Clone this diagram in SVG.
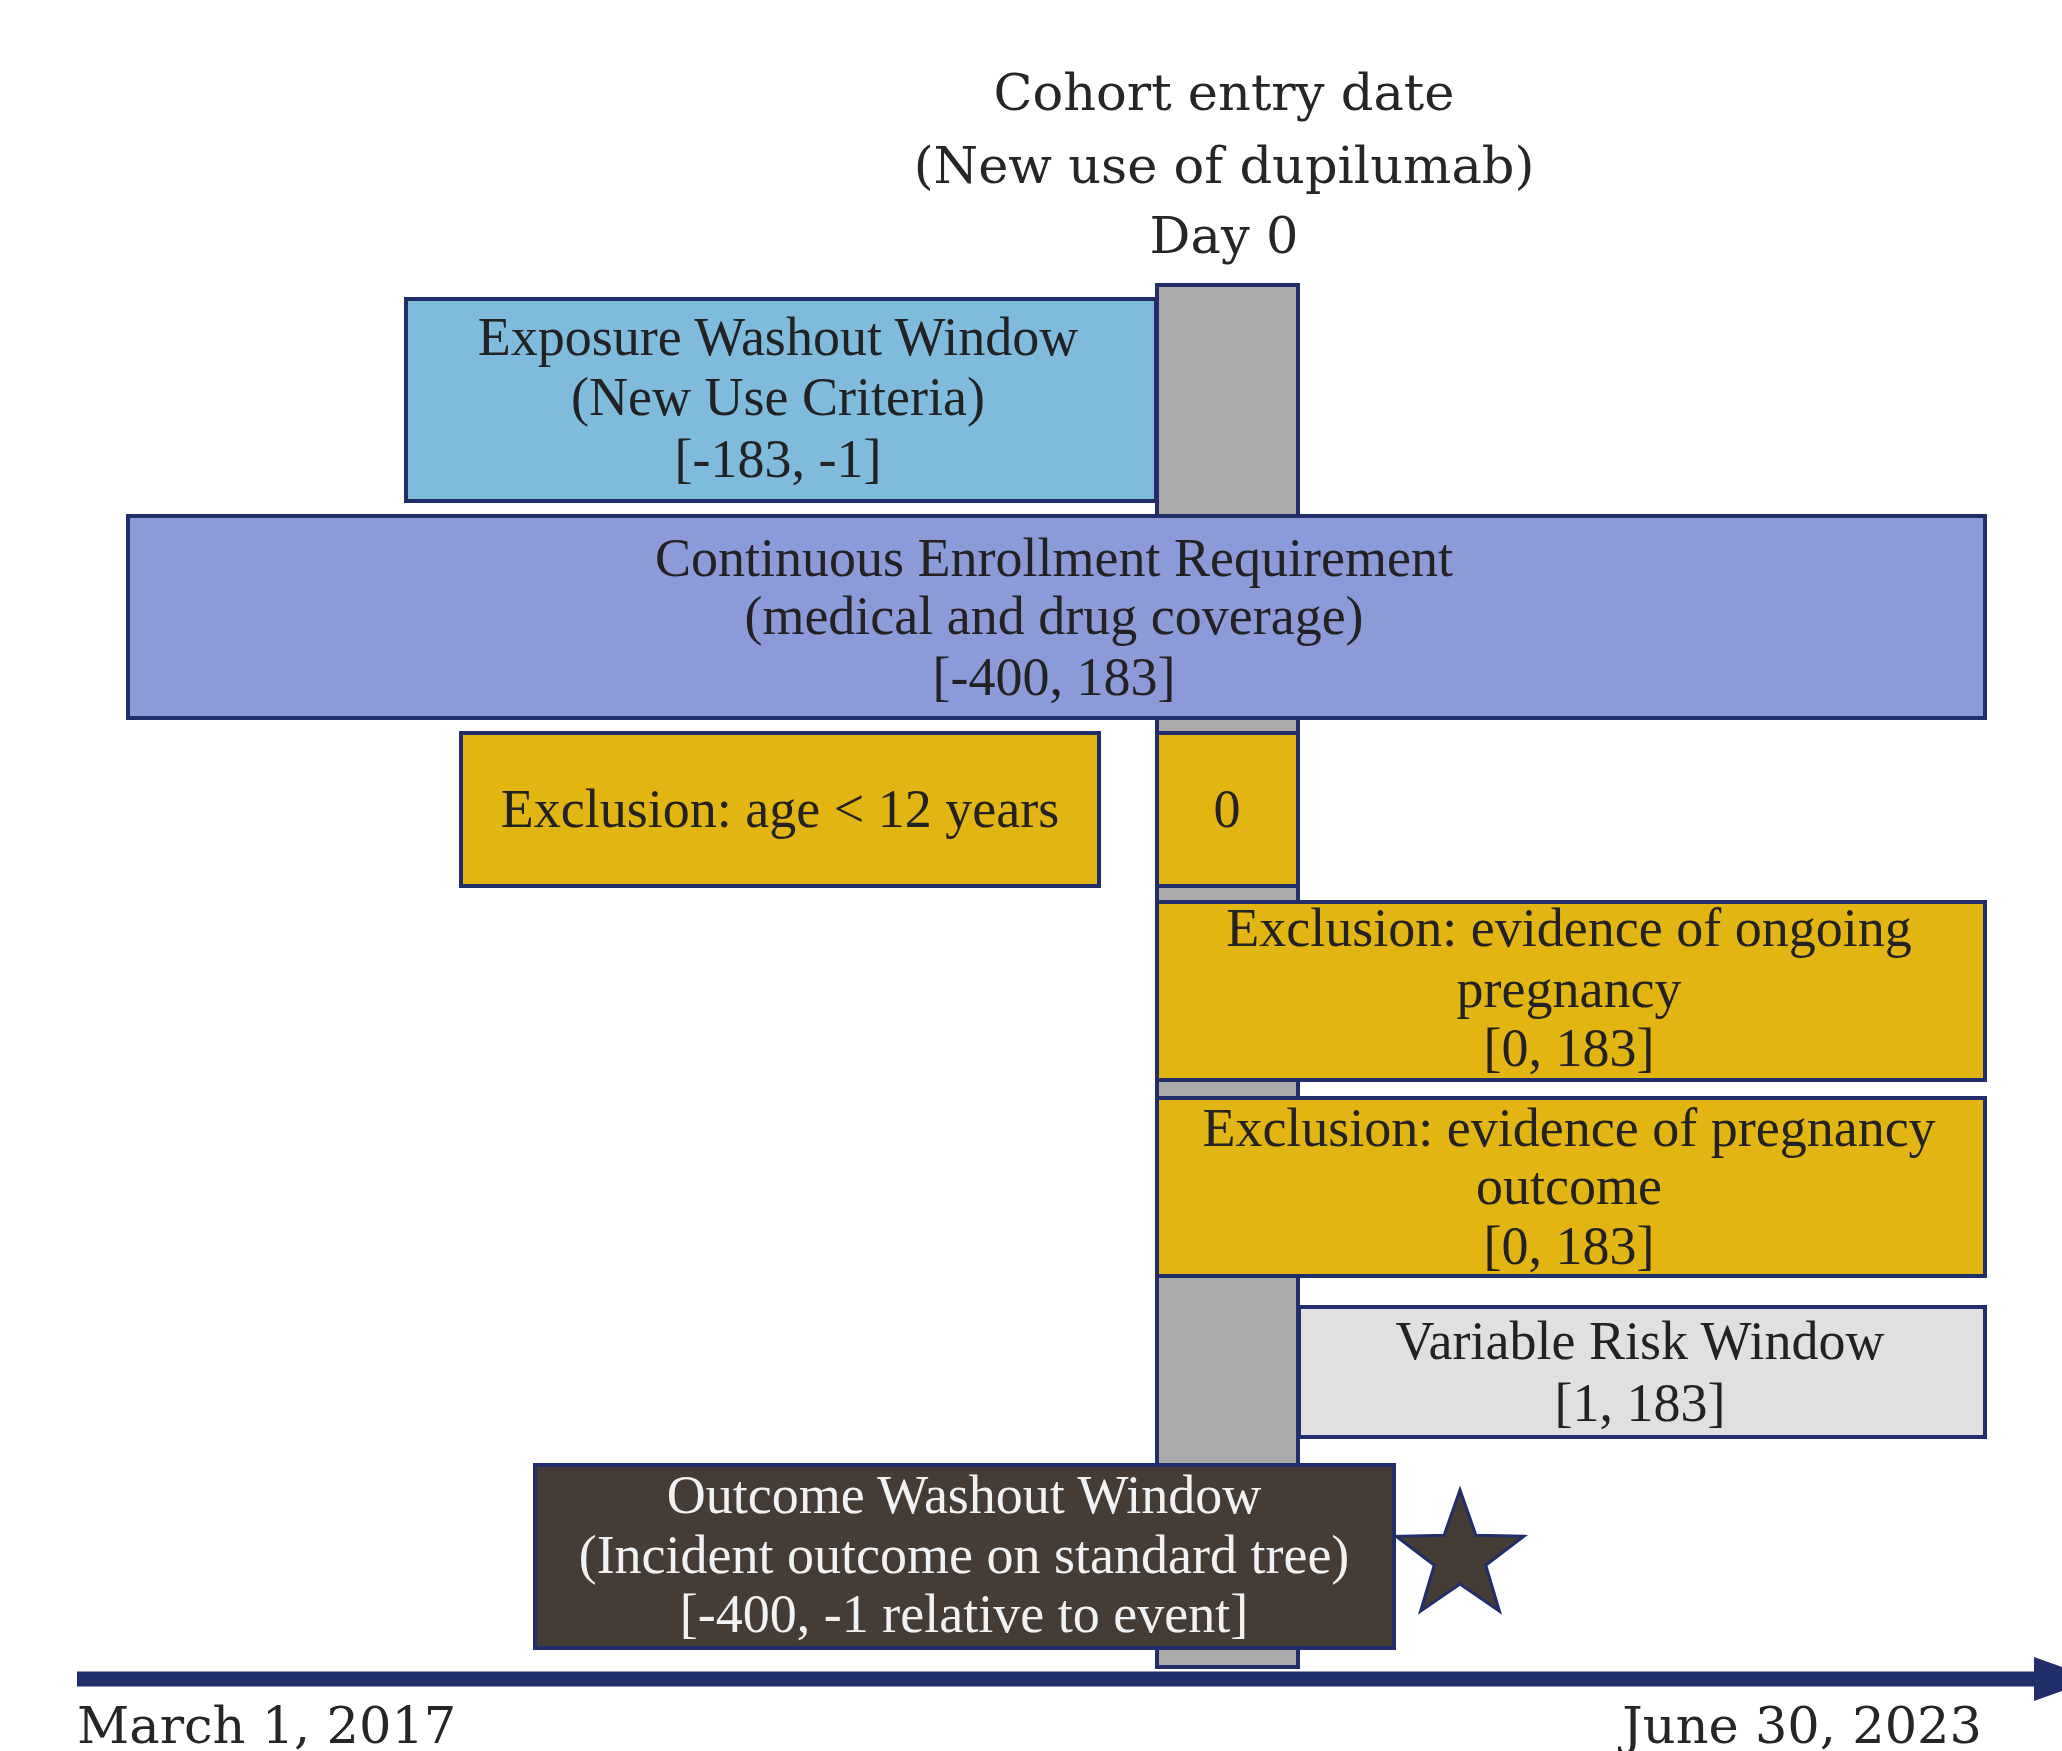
<svg xmlns="http://www.w3.org/2000/svg" width="2062" height="1751" viewBox="0 0 2062 1751">
<style>
  .box { stroke: #222E6A; stroke-width: 4; }
  .t { font-family: "Liberation Serif", "Times New Roman", serif; font-size: 54px; text-anchor: middle; fill: #222222; }
  .h { font-family: "DejaVu Serif", "Liberation Serif", serif; font-size: 51px; fill: #262626; }
  .light { fill: #F2F2F2; }
</style>
<defs>
  <marker id="arrowhead" markerUnits="userSpaceOnUse" markerWidth="64" markerHeight="46" refX="0" refY="23" orient="auto" overflow="visible">
    <path d="M0,1 L62,23 L0,45 Z" fill="#222E6A"/>
  </marker>
</defs>
<rect width="2062" height="1751" fill="#FFFFFF"/>

<g id="cohort-entry-label">
  <text class="h" x="1224" y="110" text-anchor="middle">Cohort entry date</text>
  <text class="h" x="1224" y="183" text-anchor="middle">(New use of dupilumab)</text>
  <text class="h" x="1224" y="253" text-anchor="middle">Day 0</text>
</g>

<g id="day0-bar">
  <rect class="box" x="1157" y="285" width="141" height="1382" fill="#AAAAAA"/>
</g>

<g id="exposure-washout">
  <rect class="box" x="406" y="299" width="750" height="202" fill="#7FBBDC"/>
  <text class="t" x="778" y="355">Exposure Washout Window</text>
  <text class="t" x="778" y="415">(New Use Criteria)</text>
  <text class="t" x="778" y="477">[-183, -1]</text>
</g>

<g id="continuous-enrollment">
  <rect class="box" x="128" y="516" width="1857" height="202" fill="#8D9AD9"/>
  <text class="t" x="1054" y="576">Continuous Enrollment Requirement</text>
  <text class="t" x="1054" y="634">(medical and drug coverage)</text>
  <text class="t" x="1054" y="695">[-400, 183]</text>
</g>

<g id="exclusion-age">
  <rect class="box" x="461" y="733" width="638" height="153" fill="#E3B512"/>
  <text class="t" x="780" y="827">Exclusion: age &lt; 12 years</text>
</g>

<g id="exclusion-age-day">
  <rect class="box" x="1157" y="733" width="141" height="153" fill="#E3B512"/>
  <text class="t" x="1227" y="827">0</text>
</g>

<g id="exclusion-ongoing-pregnancy">
  <rect class="box" x="1157" y="902" width="828" height="178" fill="#E3B512"/>
  <text class="t" x="1569" y="946">Exclusion: evidence of ongoing</text>
  <text class="t" x="1569" y="1007">pregnancy</text>
  <text class="t" x="1569" y="1066">[0, 183]</text>
</g>

<g id="exclusion-pregnancy-outcome">
  <rect class="box" x="1157" y="1098" width="828" height="178" fill="#E3B512"/>
  <text class="t" x="1569" y="1146">Exclusion: evidence of pregnancy</text>
  <text class="t" x="1569" y="1204">outcome</text>
  <text class="t" x="1569" y="1264">[0, 183]</text>
</g>

<g id="variable-risk-window">
  <rect class="box" x="1299" y="1307" width="686" height="130" fill="#E0E0E0"/>
  <text class="t" x="1640" y="1359" fill="#333333">Variable Risk Window</text>
  <text class="t" x="1640" y="1421" fill="#333333">[1, 183]</text>
</g>

<g id="outcome-washout">
  <rect class="box" x="535" y="1465" width="859" height="183" fill="#463C36"/>
  <text class="t light" x="964" y="1513">Outcome Washout Window</text>
  <text class="t light" x="964" y="1573">(Incident outcome on standard tree)</text>
  <text class="t light" x="964" y="1632">[-400, -1 relative to event]</text>
</g>

<g id="event-star">
  <polygon points="1460,1490 1475.9,1535.2 1523.7,1536.3 1485.7,1565.3 1499.4,1611.2 1460,1584 1420.6,1611.2 1434.3,1565.3 1396.3,1536.3 1444.1,1535.2" fill="#463C36" stroke="#222E6A" stroke-width="3" stroke-linejoin="miter"/>
</g>

<g id="connectors">
  <line x1="77" y1="1679" x2="2034" y2="1679" stroke="#222E6A" stroke-width="15" marker-end="url(#arrowhead)"/>
</g>

<g id="timeline-labels">
  <text class="h" x="77" y="1743">March 1, 2017</text>
  <text class="h" x="1982" y="1743" text-anchor="end">June 30, 2023</text>
</g>
</svg>
